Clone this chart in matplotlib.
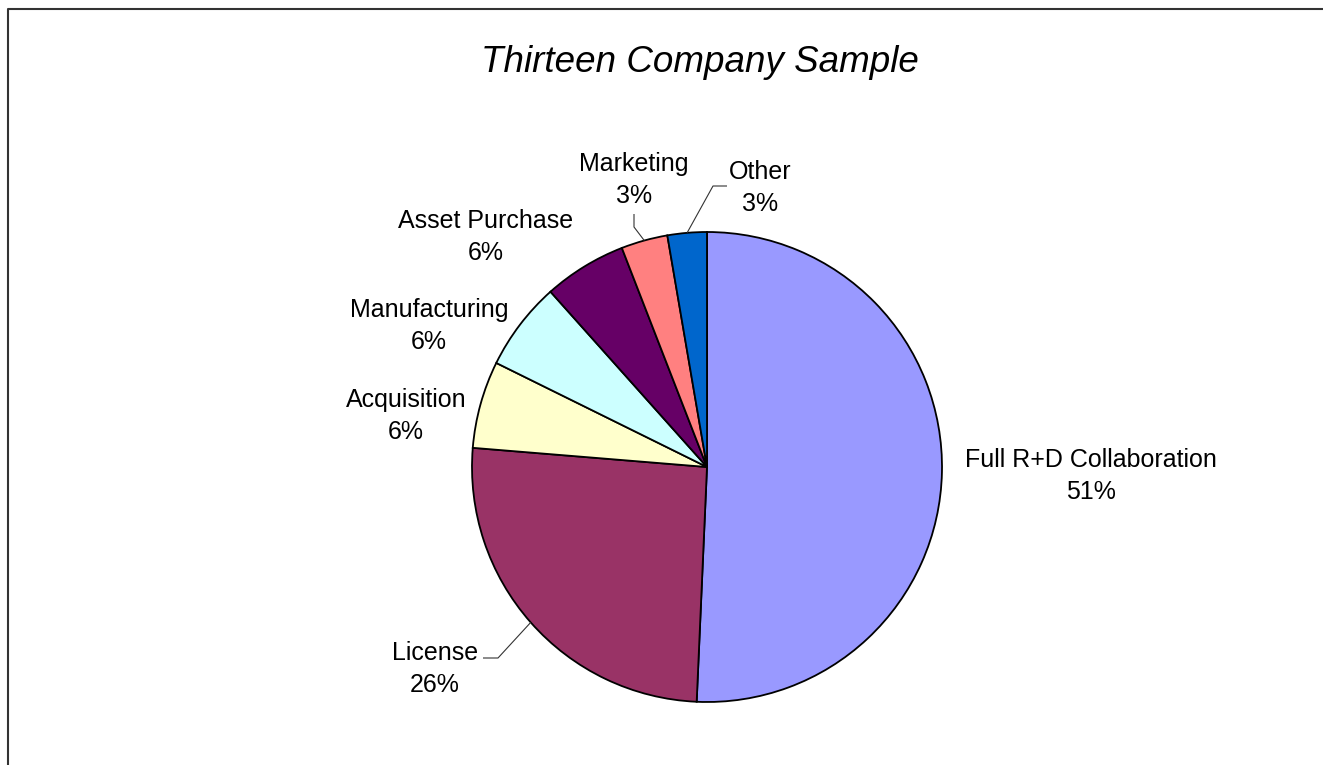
import numpy as np
import matplotlib
matplotlib.use("Agg")
import matplotlib.pyplot as plt

# share of deals (%) in the thirteen company sample
categories = ["Full R+D Collaboration", "License", "Acquisition", "Manufacturing",
              "Asset Purchase", "Marketing", "Other"]
shares = [50.7, 25.6, 6.0, 6.1, 5.7, 3.2, 2.7]
colors = ["#9999FF", "#993366", "#FFFFCC", "#CCFFFF", "#660066", "#FF8080", "#0066CC"]

# label centres in pixel coords (from top-left of image)
label_pos = {
    "Full R+D Collaboration": (1091, 476),
    "License": (435, 669),
    "Acquisition": (406, 416),
    "Manufacturing": (429, 326),
    "Asset Purchase": (486, 237),
    "Marketing": (634, 180),
    "Other": (760, 188),
}

W, H = 1323, 765
cx, cy, r = 707, 467, 235

plt.rcParams['font.family'] = ['Liberation Sans', 'DejaVu Sans']

def px(x, y):
    # image pixel -> data coords (y up)
    return x, H - y

fig = plt.figure(figsize=(W / 100, H / 100), dpi=100)
ax = fig.add_axes([0, 0, 1, 1])

wedges, _ = ax.pie(shares, colors=colors, startangle=90, counterclock=False,
                   center=px(cx, cy), radius=r, frame=True,
                   wedgeprops=dict(edgecolor='black', linewidth=1.3))
ax.set_xlim(0, W)
ax.set_ylim(0, H)
ax.axis('off')

total = sum(shares)
for name, v in zip(categories, shares):
    lx, ly = label_pos[name]
    pct = round(100 * v / total)
    ax.text(*px(lx, ly), f"{name}\n{pct}%", ha='center', va='center',
            fontsize=18, linespacing=1.45)

# leader lines: label -> elbow -> wedge edge at mid angle
def edge_point(i):
    start = sum(shares[:i]) / total * 360
    mid = np.radians(start + shares[i] / total * 180)
    return cx + r * np.sin(mid), cy - r * np.cos(mid)

leaders = {
    "License": [(48, -11), (63, -11)],
    "Marketing": [(0, 34), (0, 47)],
    "Other": [(-33, -2), (-47, -2)],
}
for name, offs in leaders.items():
    i = categories.index(name)
    lx, ly = label_pos[name]
    pts = [(lx + dx, ly + dy) for dx, dy in offs] + [edge_point(i)]
    xs = [p[0] for p in pts]
    ys = [H - p[1] for p in pts]
    ax.plot(xs, ys, color='#333333', linewidth=0.8, solid_capstyle='butt')

ax.text(*px(700, 62), "Thirteen Company Sample", ha='center', va='center',
        fontsize=26.5, style='italic')

# chart frame (top and left edges visible)
ax.plot([7.5, 7.5, W], [0, H - 8.5, H - 8.5], color='#333333', linewidth=1.5)

fig.savefig("out.png", dpi=100)
